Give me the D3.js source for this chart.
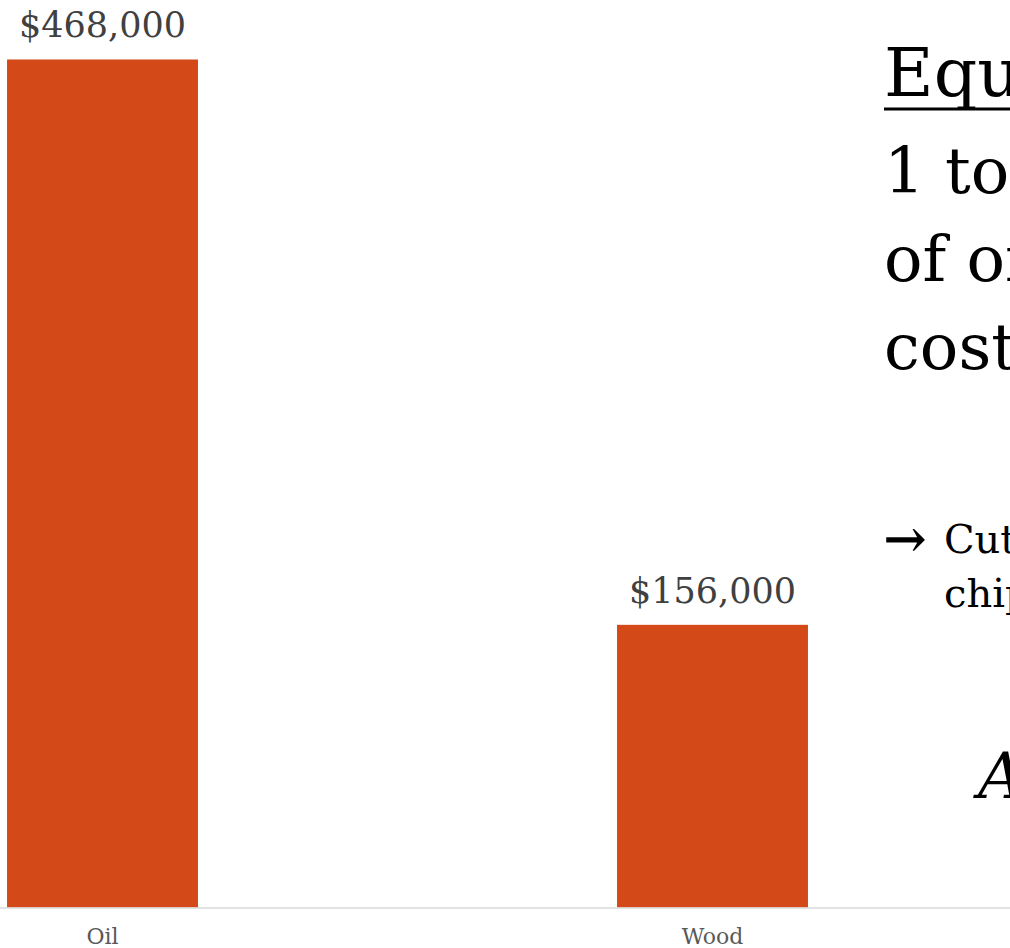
<!DOCTYPE html>
<html>
<head>
<meta charset="utf-8">
<script src="https://cdn.jsdelivr.net/npm/d3@7"></script>
<style>
  html, body { margin: 0; padding: 0; background: #ffffff; }
  svg { display: block; }
</style>
</head>
<body>
<svg id="chart" width="1010" height="948"></svg>
<script>
// ---- data ----
const categories = ["Oil", "Wood"];
const costs = [468000, 156000];
const valueLabels = ["$468,000", "$156,000"];
const sideLines = ["1 tonne of wood", "of oil equivalent", "costs less"];
const noteLines = ["Cuts CO\u2082 and", "chips are local"];

const W = 1010, H = 948;
const svg = d3.select("#chart");
const serif = "'DejaVu Serif', serif";

const y = d3.scaleLinear().domain([0, 500000]).range([907.5, 1.5]);
const x = d3.scaleBand().domain(categories).range([-202.5, 1017.5])
  .paddingInner(0.687).paddingOuter(0.3435);

// bars
svg.append("g").selectAll("rect").data(categories).join("rect")
  .attr("x", d => x(d))
  .attr("width", x.bandwidth())
  .attr("y", (d, i) => y(costs[i]))
  .attr("height", (d, i) => y(0) - y(costs[i]))
  .attr("fill", "#D34A18");

// value labels
svg.append("g").selectAll("text").data(categories).join("text")
  .attr("x", d => x(d) + x.bandwidth() / 2)
  .attr("y", (d, i) => y(costs[i]) - 22)
  .attr("text-anchor", "middle")
  .attr("font-family", serif)
  .attr("font-size", 35)
  .attr("fill", "#404040")
  .text((d, i) => valueLabels[i]);

// x axis
const xAxis = d3.axisBottom(x).tickSize(0).tickPadding(21);
const gx = svg.append("g").attr("transform", `translate(0,${y(0)})`).call(xAxis);
gx.select(".domain").remove();
gx.selectAll("text").attr("font-family", serif).attr("font-size", 22).attr("fill", "#595959");
svg.append("line").attr("x1", 0).attr("x2", W).attr("y1", y(0) + 0.5).attr("y2", y(0) + 0.5)
  .attr("stroke", "#d9d9d9").attr("stroke-width", 1.5);

// side text (clipped at page edge, as in the original slide)
const side = svg.append("g").attr("font-family", serif).attr("fill", "#000");
side.append("text").attr("x", 884).attr("y", 96).attr("font-size", 68).text("Equivalent:");
side.append("line").attr("x1", 884).attr("x2", W).attr("y1", 109).attr("y2", 109)
  .attr("stroke", "#000").attr("stroke-width", 3);
side.selectAll("text.l").data(sideLines).join("text").attr("class", "l")
  .attr("x", 884).attr("y", (d, i) => 193 + i * 88).attr("font-size", 64).text(d => d);
side.append("text").attr("x", 884).attr("y", 556).attr("font-size", 50)
  .attr("stroke", "#000").attr("stroke-width", 1.2).text("\u2192");
side.selectAll("text.n").data(noteLines).join("text").attr("class", "n")
  .attr("x", 944).attr("y", (d, i) => 553 + i * 54).attr("font-size", 40).text(d => d);
side.append("text").attr("x", 978).attr("y", 798).attr("font-size", 64)
  .attr("font-style", "italic").text("Act now");
</script>
</body>
</html>
